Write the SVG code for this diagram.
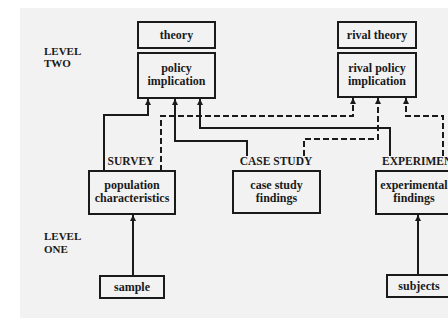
<svg xmlns="http://www.w3.org/2000/svg" width="448" height="321" viewBox="0 0 448 321">
<style>
.box{fill:none;stroke:#1a1a1a;stroke-width:2}
.t{font-family:"Liberation Serif",serif;font-weight:bold;font-size:12px;fill:#1a1a1a;text-anchor:middle}
.h{font-family:"Liberation Serif",serif;font-weight:bold;font-size:11.5px;fill:#1a1a1a}
.lv{font-family:"Liberation Serif",serif;font-weight:bold;font-size:11px;fill:#1a1a1a}
.c{fill:none;stroke:#1a1a1a;stroke-width:2;marker-end:url(#ah)}
.d{stroke-dasharray:6 3}
</style>
<defs>
<marker id="ah" markerUnits="userSpaceOnUse" markerWidth="7" markerHeight="7" refX="6" refY="3" orient="auto">
<path d="M0,0 L6,3 L0,6 z" fill="#1a1a1a"/>
</marker>
</defs>
<rect width="448" height="321" fill="#ffffff"/>
<rect x="20" y="8" width="428" height="310" fill="#f2f2f2"/>
<g id="labels">
<text class="lv" x="44" y="55">LEVEL</text>
<text class="lv" x="44" y="67">TWO</text>
<text class="lv" x="44" y="240">LEVEL</text>
<text class="lv" x="44" y="253">ONE</text>
<text class="h" x="131" y="165" text-anchor="middle">SURVEY</text>
<text class="h" x="276" y="165" text-anchor="middle">CASE STUDY</text>
<text class="h" x="382" y="165">EXPERIMENT</text>
</g>
<g id="connectors">
<path class="c" d="M104,171 V115 H148 V99"/>
<path class="c" d="M247,156 V141 H175 V99"/>
<path class="c" d="M390,156 V128 H200 V99"/>
<path class="c" d="M133,276 V215"/>
<path class="c" d="M418,275 V215"/>
<path class="c d" d="M161,171 V116 H353 V98"/>
<path class="c d" d="M304,156 V139 H378 V98"/>
<path class="c d" d="M443,156 V116 H406 V98"/>
</g>
<g id="theory"><rect class="box" x="138" y="22" width="77" height="26"/><text class="t" x="176.5" y="39">theory</text></g>
<g id="policy"><rect class="box" x="138" y="53" width="77" height="45"/><text class="t" x="176.5" y="72">policy</text><text class="t" x="176.5" y="85">implication</text></g>
<g id="rival-theory"><rect class="box" x="338" y="22" width="78" height="26"/><text class="t" x="377" y="39">rival theory</text></g>
<g id="rival-policy"><rect class="box" x="338" y="53" width="78" height="44"/><text class="t" x="377" y="72">rival policy</text><text class="t" x="377" y="85">implication</text></g>
<g id="population"><rect class="box" x="89" y="171" width="86" height="43"/><text class="t" x="132" y="189">population</text><text class="t" x="132" y="202">characteristics</text></g>
<g id="case-study"><rect class="box" x="233" y="171" width="87" height="42"/><text class="t" x="276.5" y="189">case study</text><text class="t" x="276.5" y="202">findings</text></g>
<g id="experimental"><rect class="box" x="376" y="171" width="76" height="43"/><text class="t" x="414" y="189">experimental</text><text class="t" x="414" y="202">findings</text></g>
<g id="sample"><rect class="box" x="100" y="276" width="64" height="22"/><text class="t" x="132" y="291">sample</text></g>
<g id="subjects"><rect class="box" x="387" y="275" width="64" height="22"/><text class="t" x="419" y="290">subjects</text></g>
</svg>
